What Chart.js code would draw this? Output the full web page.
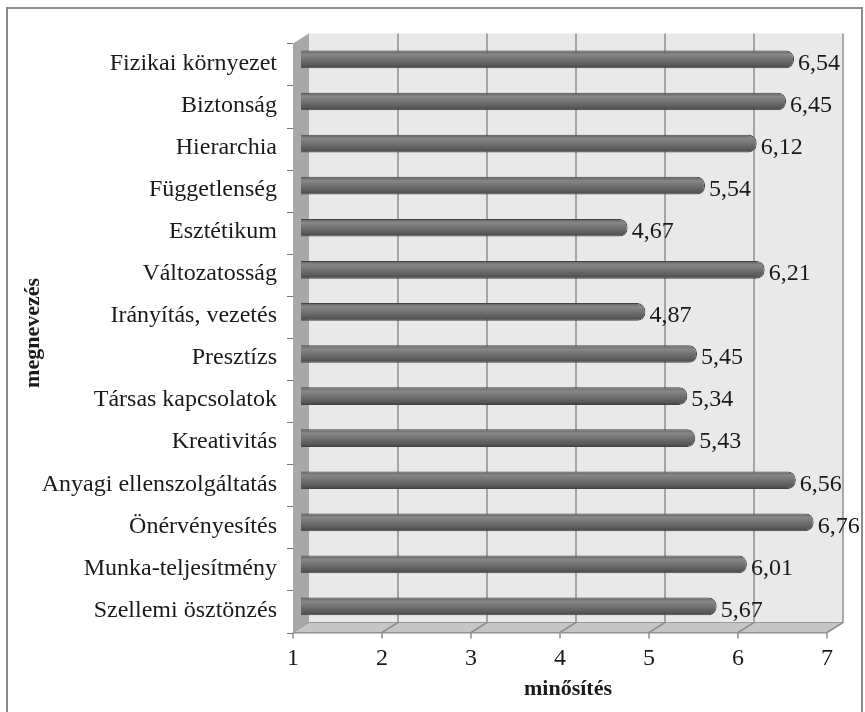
<!DOCTYPE html>
<html>
<head>
<meta charset="utf-8">
<script src="https://cdn.jsdelivr.net/npm/chart.js@4.4.1/dist/chart.umd.min.js"></script>
<style>
  html, body { margin: 0; padding: 0; background: #fff; }
  #wrap { width: 865px; height: 712px; }
</style>
</head>
<body>
<div id="wrap"><canvas id="chart"></canvas></div>
<script>
// --- Data ---
const categories = [
  'Fizikai környezet', 'Biztonság', 'Hierarchia', 'Függetlenség', 'Esztétikum',
  'Változatosság', 'Irányítás, vezetés', 'Presztízs', 'Társas kapcsolatok',
  'Kreativitás', 'Anyagi ellenszolgáltatás', 'Önérvényesítés',
  'Munka-teljesítmény', 'Szellemi ösztönzés'
];
const ratings = [6.54, 6.45, 6.12, 5.54, 4.67, 6.21, 4.87, 5.45, 5.34, 5.43, 6.56, 6.76, 6.01, 5.67];
const xTicks = [1, 2, 3, 4, 5, 6, 7];
const xTitle = 'minősítés';
const yTitle = 'megnevezés';

const serif = "'Liberation Serif', 'Times New Roman', serif";
const DX = 8, DY = 5; // depth offset of the 3D walls

// frame + white background
const framePlugin = {
  id: 'frame',
  beforeDraw(chart) {
    const ctx = chart.ctx;
    ctx.save();
    ctx.fillStyle = '#fff';
    ctx.fillRect(0, 0, chart.width, chart.height);
    ctx.strokeStyle = '#8c8c8c';
    ctx.lineWidth = 2;
    ctx.strokeRect(7, 8, 855, 730);
    ctx.restore();
  }
};

// back wall, side wall, floor and grid, placed from the scales
const wallPlugin = {
  id: 'wall3d',
  beforeDatasetsDraw(chart) {
    const ctx = chart.ctx;
    const x = chart.scales.x;
    const area = chart.chartArea;
    const top = area.top, bottom = area.bottom;
    const x0 = x.getPixelForValue(xTicks[0]);
    const x1 = x.getPixelForValue(xTicks[xTicks.length - 1]);
    ctx.save();

    // back wall
    ctx.fillStyle = '#e9e9e9';
    ctx.fillRect(x0 + DX, top - DY, x1 - x0, bottom - top);

    // left wall
    ctx.fillStyle = '#a8a8a8';
    ctx.beginPath();
    ctx.moveTo(x0 - DX, top + DY);
    ctx.lineTo(x0 + DX, top - DY);
    ctx.lineTo(x0 + DX, bottom - DY);
    ctx.lineTo(x0 - DX, bottom + DY);
    ctx.closePath();
    ctx.fill();

    // floor
    ctx.fillStyle = '#c6c6c6';
    ctx.strokeStyle = '#9a9a9a';
    ctx.lineWidth = 1;
    ctx.beginPath();
    ctx.moveTo(x0 - DX, bottom + DY);
    ctx.lineTo(x0 + DX, bottom - DY);
    ctx.lineTo(x1 + DX, bottom - DY);
    ctx.lineTo(x1 - DX, bottom + DY);
    ctx.closePath();
    ctx.fill();
    ctx.stroke();

    // grid lines on wall and floor, tick marks at the front
    ctx.strokeStyle = '#8e8e8e';
    ctx.lineWidth = 1.5;
    xTicks.forEach((v, i) => {
      const px = x.getPixelForValue(v);
      ctx.beginPath();
      if (i > 0) {
        ctx.moveTo(px + DX, top - DY);
        ctx.lineTo(px + DX, bottom - DY);
        ctx.lineTo(px - DX, bottom + DY);
      } else {
        ctx.moveTo(px - DX, bottom + DY);
      }
      ctx.lineTo(px - DX, bottom + DY + 6);
      ctx.stroke();
    });

    // front edge of the floor
    ctx.strokeStyle = '#8a8a8a';
    ctx.lineWidth = 1;
    ctx.beginPath();
    ctx.moveTo(x0 - DX, bottom + DY + 0.5);
    ctx.lineTo(x1 - DX, bottom + DY + 0.5);
    ctx.stroke();

    // category tick marks on the side wall
    const band = (bottom - top) / categories.length;
    ctx.strokeStyle = '#777';
    for (let k = 0; k <= categories.length; k++) {
      const yy = Math.round(top + k * band + DY) + 0.5;
      ctx.beginPath();
      ctx.moveTo(x0 - DX - 6, yy);
      ctx.lineTo(x0 - DX, yy);
      ctx.stroke();
    }
    ctx.restore();
  }
};

// value labels with decimal comma
const valueLabels = {
  id: 'valueLabels',
  afterDatasetsDraw(chart) {
    const ctx = chart.ctx;
    const meta = chart.getDatasetMeta(0);
    ctx.save();
    ctx.font = '24px ' + serif;
    ctx.fillStyle = '#1a1a1a';
    ctx.textAlign = 'left';
    ctx.textBaseline = 'middle';
    meta.data.forEach((bar, i) => {
      const txt = ratings[i].toFixed(2).replace('.', ',');
      ctx.fillText(txt, bar.x + 4, bar.y + 4);
    });
    ctx.restore();
  }
};

function barGradient(c) {
  const chart = c.chart;
  const yScale = chart.scales.y;
  if (!yScale || c.dataIndex === undefined) return '#6a6a6a';
  const yc = yScale.getPixelForValue(c.dataIndex);
  if (!isFinite(yc)) return '#6a6a6a';
  const g = chart.ctx.createLinearGradient(0, yc - 9, 0, yc + 9);
  g.addColorStop(0, '#5e5e5e');
  g.addColorStop(0.22, '#878787');
  g.addColorStop(0.5, '#727272');
  g.addColorStop(0.85, '#565656');
  g.addColorStop(1, '#3c3c3c');
  return g;
}

new Chart(document.getElementById('chart'), {
  type: 'bar',
  data: {
    labels: categories,
    datasets: [{
      data: ratings,
      backgroundColor: barGradient,
      borderColor: '#444',
      borderWidth: 1,
      borderSkipped: false,
      borderRadius: 8,
      barPercentage: 0.42,
      categoryPercentage: 1
    }]
  },
  options: {
    indexAxis: 'y',
    responsive: true,
    maintainAspectRatio: false,
    animation: false,
    layout: { padding: { top: 33, right: 30, bottom: 0, left: 0 } },
    scales: {
      x: {
        min: 1,
        max: 7,
        afterFit: s => { s.height = 84.5; },
        afterBuildTicks: s => { s.ticks = xTicks.map(v => ({ value: v })); },
        grid: { display: false, drawTicks: false },
        border: { display: false },
        ticks: {
          font: { family: serif, size: 24 },
          color: '#1a1a1a',
          padding: 17,
          labelOffset: -DX
        },
        title: {
          display: true,
          text: xTitle,
          font: { family: serif, size: 22, weight: 'bold' },
          color: '#1a1a1a',
          padding: { top: 0, bottom: 9 }
        }
      },
      y: {
        afterFit: s => { s.width = 301; },
        grid: { display: false, drawTicks: false },
        border: { display: false },
        ticks: {
          font: { family: serif, size: 24 },
          color: '#1a1a1a',
          padding: 24,
          labelOffset: 4
        },
        title: {
          display: true,
          text: yTitle,
          font: { family: serif, size: 22, weight: 'bold' },
          color: '#1a1a1a',
          padding: { top: 20, bottom: 0 }
        }
      }
    },
    plugins: {
      legend: { display: false },
      tooltip: { enabled: false }
    }
  },
  plugins: [framePlugin, wallPlugin, valueLabels]
});
</script>
</body>
</html>
